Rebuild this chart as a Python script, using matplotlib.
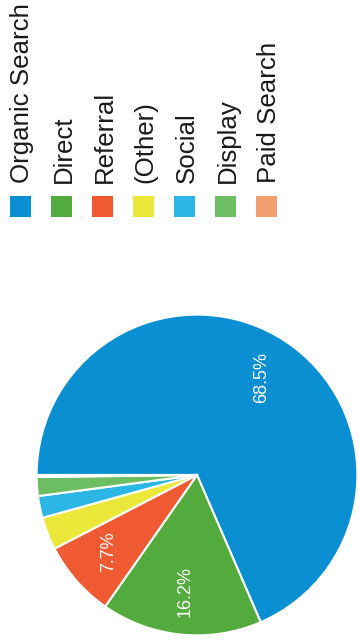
import matplotlib.pyplot as plt
from matplotlib.patches import Rectangle

# traffic share by channel
channels = ["Organic Search", "Direct", "Referral", "(Other)", "Social", "Display", "Paid Search"]
shares = [68.5, 16.2, 7.7, 3.3, 2.2, 1.9, 0.2]
colors = ["#0a8fd2", "#52ab3c", "#f05a32", "#ebe83a", "#2bb6e6", "#6dbd62", "#f2a070"]

plt.rcParams["font.family"] = ["Liberation Sans", "DejaVu Sans"]

fig = plt.figure(figsize=(3.58, 6.42), dpi=100)
fig.patch.set_facecolor("white")


def pct_label(p):
    return f"{p:.1f}%" if p >= 5 else ""


ax = fig.add_axes([0.0978, 0.0078, 0.905, 0.5047])
wedges, _, autotexts = ax.pie(
    shares,
    colors=colors,
    startangle=180,
    counterclock=False,
    autopct=pct_label,
    pctdistance=0.73,
    wedgeprops=dict(edgecolor="white", linewidth=1.5),
    textprops=dict(color="white", fontsize=13),
)
for t in autotexts:
    t.set_rotation(90)
ax.set_xlim(-1.01, 1.01)
ax.set_ylim(-1.01, 1.01)
ax.set_aspect("equal")

# legend: vertical swatches with rotated labels, in pixel coordinates
lg = fig.add_axes([0, 0, 1, 1], facecolor="none")
lg.set_xlim(0, 358)
lg.set_ylim(642, 0)
lg.axis("off")
x0, step = 20.5, 41
for i, (name, c) in enumerate(zip(channels, colors)):
    xc = x0 + i * step
    lg.add_patch(Rectangle((xc - 10.5, 196), 21, 21, facecolor=c, edgecolor="none"))
    lg.text(xc + 2, 183, name, rotation=90, ha="center", va="bottom",
            fontsize=18.6, color="#1a1a1a")

fig.savefig("out.png", dpi=100, facecolor="white")
